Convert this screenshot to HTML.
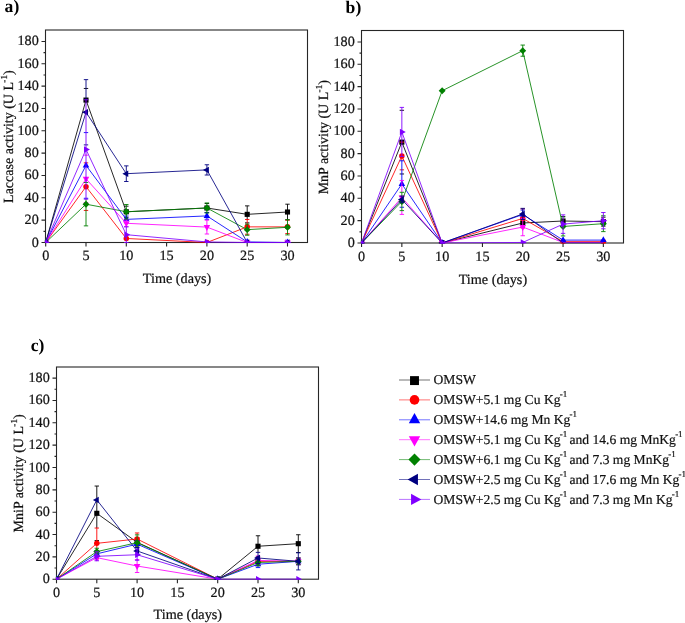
<!DOCTYPE html>
<html><head><meta charset="utf-8"><style>
html,body{margin:0;padding:0;background:#fff;}
body{width:685px;height:623px;overflow:hidden;}
svg{display:block;text-rendering:geometricPrecision;will-change:transform;}
.t{font-family:'Liberation Serif',serif;font-size:14.2px;fill:#111;stroke:#111;stroke-width:0.22px;}
.sup{font-size:9.2px;}
.yt{font-family:'Liberation Serif',serif;font-size:14.0px;fill:#111;stroke:#111;stroke-width:0.22px;}
.lab{font-family:'Liberation Serif',serif;font-size:17.6px;font-weight:bold;fill:#000;}
.lg{font-family:'Liberation Serif',serif;font-size:13.6px;fill:#111;stroke:#111;stroke-width:0.2px;}
.ls{font-size:9px;}
</style></head><body>
<svg width="685" height="623" viewBox="0 0 685 623">
<rect width="685" height="623" fill="#fff"/>
<rect x="45.5" y="30.0" width="262" height="212.50" fill="none" stroke="#262626" stroke-width="1.1"/>
<path d="M41.5,242.50H45.5M43.5,231.33H45.5M41.5,220.16H45.5M43.5,208.99H45.5M41.5,197.82H45.5M43.5,186.65H45.5M41.5,175.48H45.5M43.5,164.31H45.5M41.5,153.14H45.5M43.5,141.97H45.5M41.5,130.80H45.5M43.5,119.63H45.5M41.5,108.46H45.5M43.5,97.29H45.5M41.5,86.12H45.5M43.5,74.95H45.5M41.5,63.78H45.5M43.5,52.61H45.5M41.5,41.44H45.5M45.70,242.5V246.5M86.00,242.5V246.5M126.30,242.5V246.5M166.60,242.5V246.5M206.90,242.5V246.5M247.20,242.5V246.5M287.50,242.5V246.5" stroke="#262626" stroke-width="1.1" fill="none"/>
<clipPath id="ca"><rect x="44.95" y="29.45" width="263.10" height="213.60"/></clipPath>
<g clip-path="url(#ca)">
<path d="M45.70,242.50L86.00,100.08L126.30,211.78L206.90,207.98L247.20,214.35L287.50,212.01" fill="none" stroke="#000000" stroke-width="0.85" stroke-linejoin="round"/>
<path d="M83.80,88.47H88.20M83.80,111.70H88.20" stroke="#000000" stroke-width="0.9" fill="none"/>
<path d="M124.10,206.20H128.50M124.10,217.37H128.50" stroke="#000000" stroke-width="0.9" fill="none"/>
<path d="M204.70,203.52H209.10M204.70,212.45H209.10" stroke="#000000" stroke-width="0.9" fill="none"/>
<path d="M247.20,205.86V219.49M245.00,205.86H249.40M245.00,222.84H249.40" stroke="#000000" stroke-width="0.9" fill="none"/>
<path d="M287.50,204.19V219.71M285.30,204.19H289.70M285.30,219.82H289.70" stroke="#000000" stroke-width="0.9" fill="none"/>
<rect x="43.15" y="239.95" width="5.10" height="5.10" fill="#000000"/>
<rect x="83.45" y="97.53" width="5.10" height="5.10" fill="#000000"/>
<rect x="123.75" y="209.23" width="5.10" height="5.10" fill="#000000"/>
<rect x="204.35" y="205.43" width="5.10" height="5.10" fill="#000000"/>
<rect x="244.65" y="211.80" width="5.10" height="5.10" fill="#000000"/>
<rect x="284.95" y="209.46" width="5.10" height="5.10" fill="#000000"/>
<path d="M45.70,242.50L86.00,186.65L126.30,238.48L206.90,242.50L247.20,226.86L287.50,226.86" fill="none" stroke="#ff0000" stroke-width="0.85" stroke-linejoin="round"/>
<path d="M83.80,162.86H88.20M83.80,210.44H88.20" stroke="#ff0000" stroke-width="0.9" fill="none"/>
<path d="M247.20,219.49V224.07M245.00,219.49H249.40M245.00,234.23H249.40" stroke="#ff0000" stroke-width="0.9" fill="none"/>
<path d="M285.30,220.16H289.70M285.30,233.56H289.70" stroke="#ff0000" stroke-width="0.9" fill="none"/>
<circle cx="45.70" cy="242.50" r="2.75" fill="#ff0000"/>
<circle cx="86.00" cy="186.65" r="2.75" fill="#ff0000"/>
<circle cx="126.30" cy="238.48" r="2.75" fill="#ff0000"/>
<circle cx="206.90" cy="242.50" r="2.75" fill="#ff0000"/>
<circle cx="247.20" cy="226.86" r="2.75" fill="#ff0000"/>
<circle cx="287.50" cy="226.86" r="2.75" fill="#ff0000"/>
<path d="M45.70,242.50L86.00,165.43L126.30,219.38L206.90,215.92L247.20,241.94L287.50,242.50" fill="none" stroke="#0000ff" stroke-width="0.85" stroke-linejoin="round"/>
<path d="M83.80,132.59H88.20M83.80,198.27H88.20" stroke="#0000ff" stroke-width="0.9" fill="none"/>
<path d="M126.30,219.04V219.94M124.10,216.03H128.50M124.10,222.73H128.50" stroke="#0000ff" stroke-width="0.9" fill="none"/>
<path d="M206.90,213.01V219.27M204.70,212.56H209.10M204.70,219.27H209.10" stroke="#0000ff" stroke-width="0.9" fill="none"/>
<path d="M45.70,238.57L48.95,244.47L42.45,244.47Z" fill="#0000ff"/>
<path d="M86.00,161.49L89.25,167.39L82.75,167.39Z" fill="#0000ff"/>
<path d="M126.30,215.44L129.55,221.34L123.05,221.34Z" fill="#0000ff"/>
<path d="M206.90,211.98L210.15,217.88L203.65,217.88Z" fill="#0000ff"/>
<path d="M247.20,238.01L250.45,243.91L243.95,243.91Z" fill="#0000ff"/>
<path d="M287.50,238.57L290.75,244.47L284.25,244.47Z" fill="#0000ff"/>
<path d="M45.70,242.50L86.00,178.83L126.30,223.29L206.90,227.09L247.20,242.50L287.50,242.50" fill="none" stroke="#ff00ff" stroke-width="0.85" stroke-linejoin="round"/>
<path d="M83.80,155.15H88.20M83.80,202.51H88.20" stroke="#ff00ff" stroke-width="0.9" fill="none"/>
<path d="M126.30,219.94V226.64M124.10,219.94H128.50M124.10,226.64H128.50" stroke="#ff00ff" stroke-width="0.9" fill="none"/>
<path d="M206.90,220.16V234.01M204.70,220.16H209.10M204.70,234.01H209.10" stroke="#ff00ff" stroke-width="0.9" fill="none"/>
<path d="M45.70,246.43L48.95,240.53L42.45,240.53Z" fill="#ff00ff"/>
<path d="M86.00,182.76L89.25,176.86L82.75,176.86Z" fill="#ff00ff"/>
<path d="M126.30,227.22L129.55,221.32L123.05,221.32Z" fill="#ff00ff"/>
<path d="M206.90,231.02L210.15,225.12L203.65,225.12Z" fill="#ff00ff"/>
<path d="M247.20,246.43L250.45,240.53L243.95,240.53Z" fill="#ff00ff"/>
<path d="M287.50,246.43L290.75,240.53L284.25,240.53Z" fill="#ff00ff"/>
<path d="M45.70,242.50L86.00,204.19L126.30,211.78L206.90,207.98L247.20,229.65L287.50,227.31" fill="none" stroke="#008000" stroke-width="0.85" stroke-linejoin="round"/>
<path d="M86.00,199.16V225.86M83.80,182.52H88.20M83.80,225.86H88.20" stroke="#008000" stroke-width="0.9" fill="none"/>
<path d="M126.30,204.52V219.04M124.10,204.52H128.50M124.10,219.04H128.50" stroke="#008000" stroke-width="0.9" fill="none"/>
<path d="M206.90,202.96V213.01M204.70,202.96H209.10M204.70,213.01H209.10" stroke="#008000" stroke-width="0.9" fill="none"/>
<path d="M247.20,224.07V235.24M245.00,224.07H249.40M245.00,235.24H249.40" stroke="#008000" stroke-width="0.9" fill="none"/>
<path d="M287.50,219.71V234.90M285.30,219.71H289.70M285.30,234.90H289.70" stroke="#008000" stroke-width="0.9" fill="none"/>
<path d="M45.70,239.05L49.15,242.50L45.70,245.95L42.25,242.50Z" fill="#008000"/>
<path d="M86.00,200.74L89.45,204.19L86.00,207.64L82.55,204.19Z" fill="#008000"/>
<path d="M126.30,208.33L129.75,211.78L126.30,215.23L122.85,211.78Z" fill="#008000"/>
<path d="M206.90,204.53L210.35,207.98L206.90,211.43L203.45,207.98Z" fill="#008000"/>
<path d="M247.20,226.20L250.65,229.65L247.20,233.10L243.75,229.65Z" fill="#008000"/>
<path d="M287.50,223.86L290.95,227.31L287.50,230.76L284.05,227.31Z" fill="#008000"/>
<path d="M45.70,242.50L86.00,112.26L126.30,173.69L206.90,169.89L247.20,242.50L287.50,242.50" fill="none" stroke="#000080" stroke-width="0.85" stroke-linejoin="round"/>
<path d="M86.00,79.64V99.75M83.80,79.64H88.20M83.80,144.87H88.20" stroke="#000080" stroke-width="0.9" fill="none"/>
<path d="M126.30,165.87V181.51M124.10,165.87H128.50M124.10,181.51H128.50" stroke="#000080" stroke-width="0.9" fill="none"/>
<path d="M206.90,164.76V175.03M204.70,164.76H209.10M204.70,175.03H209.10" stroke="#000080" stroke-width="0.9" fill="none"/>
<path d="M41.77,242.50L47.67,239.25L47.67,245.75Z" fill="#000080"/>
<path d="M82.07,112.26L87.97,109.01L87.97,115.51Z" fill="#000080"/>
<path d="M122.37,173.69L128.27,170.44L128.27,176.94Z" fill="#000080"/>
<path d="M202.97,169.89L208.87,166.64L208.87,173.14Z" fill="#000080"/>
<path d="M243.27,242.50L249.17,239.25L249.17,245.75Z" fill="#000080"/>
<path d="M283.57,242.50L289.47,239.25L289.47,245.75Z" fill="#000080"/>
<path d="M45.70,242.50L86.00,149.45L126.30,234.68L206.90,241.94L247.20,242.50L287.50,242.50" fill="none" stroke="#8000ff" stroke-width="0.85" stroke-linejoin="round"/>
<path d="M86.00,99.75V199.16M83.80,99.75H88.20M83.80,199.16H88.20" stroke="#8000ff" stroke-width="0.9" fill="none"/>
<path d="M126.30,226.86V242.50M124.10,226.86H128.50M124.10,242.50H128.50" stroke="#8000ff" stroke-width="0.9" fill="none"/>
<path d="M49.63,242.50L43.73,239.25L43.73,245.75Z" fill="#8000ff"/>
<path d="M89.93,149.45L84.03,146.20L84.03,152.70Z" fill="#8000ff"/>
<path d="M130.23,234.68L124.33,231.43L124.33,237.93Z" fill="#8000ff"/>
<path d="M210.83,241.94L204.93,238.69L204.93,245.19Z" fill="#8000ff"/>
<path d="M251.13,242.50L245.23,239.25L245.23,245.75Z" fill="#8000ff"/>
<path d="M291.43,242.50L285.53,239.25L285.53,245.75Z" fill="#8000ff"/>
</g>
<text x="38.80" y="246.50" text-anchor="end" class="t">0</text>
<text x="38.80" y="224.16" text-anchor="end" class="t">20</text>
<text x="38.80" y="201.82" text-anchor="end" class="t">40</text>
<text x="38.80" y="179.48" text-anchor="end" class="t">60</text>
<text x="38.80" y="157.14" text-anchor="end" class="t">80</text>
<text x="38.80" y="134.80" text-anchor="end" class="t">100</text>
<text x="38.80" y="112.46" text-anchor="end" class="t">120</text>
<text x="38.80" y="90.12" text-anchor="end" class="t">140</text>
<text x="38.80" y="67.78" text-anchor="end" class="t">160</text>
<text x="38.80" y="45.44" text-anchor="end" class="t">180</text>
<text x="45.70" y="260.10" text-anchor="middle" class="t">0</text>
<text x="86.00" y="260.10" text-anchor="middle" class="t">5</text>
<text x="126.30" y="260.10" text-anchor="middle" class="t">10</text>
<text x="166.60" y="260.10" text-anchor="middle" class="t">15</text>
<text x="206.90" y="260.10" text-anchor="middle" class="t">20</text>
<text x="247.20" y="260.10" text-anchor="middle" class="t">25</text>
<text x="287.50" y="260.10" text-anchor="middle" class="t">30</text>
<text x="177.1" y="282.9" text-anchor="middle" class="t">Time (days)</text>
<text transform="translate(13.2,136.6) rotate(-90)" text-anchor="middle" class="yt">Laccase activity (U L<tspan class="sup" dx="-0.6" dy="-6.3">-1</tspan><tspan dy="6.3">)</tspan></text>
<text x="4.6" y="12.2" class="lab">a)</text>
<rect x="361.5" y="30.5" width="262" height="212.50" fill="none" stroke="#262626" stroke-width="1.1"/>
<path d="M357.5,243.00H361.5M359.5,231.83H361.5M357.5,220.66H361.5M359.5,209.49H361.5M357.5,198.32H361.5M359.5,187.15H361.5M357.5,175.98H361.5M359.5,164.81H361.5M357.5,153.64H361.5M359.5,142.47H361.5M357.5,131.30H361.5M359.5,120.13H361.5M357.5,108.96H361.5M359.5,97.79H361.5M357.5,86.62H361.5M359.5,75.45H361.5M357.5,64.28H361.5M359.5,53.11H361.5M357.5,41.94H361.5M361.55,243.0V247.0M401.85,243.0V247.0M442.15,243.0V247.0M482.45,243.0V247.0M522.75,243.0V247.0M563.05,243.0V247.0M603.35,243.0V247.0" stroke="#262626" stroke-width="1.1" fill="none"/>
<clipPath id="cb"><rect x="360.95" y="29.95" width="263.10" height="213.60"/></clipPath>
<g clip-path="url(#cb)">
<path d="M361.55,243.00L401.85,142.13L442.15,243.00L522.75,223.01L563.05,221.00L603.35,221.67" fill="none" stroke="#000000" stroke-width="0.85" stroke-linejoin="round"/>
<path d="M399.65,110.30H404.05M399.65,173.97H404.05" stroke="#000000" stroke-width="0.9" fill="none"/>
<path d="M520.55,218.54H524.95M520.55,227.47H524.95" stroke="#000000" stroke-width="0.9" fill="none"/>
<path d="M560.85,216.53H565.25M560.85,225.46H565.25" stroke="#000000" stroke-width="0.9" fill="none"/>
<path d="M601.15,217.20H605.55M601.15,226.13H605.55" stroke="#000000" stroke-width="0.9" fill="none"/>
<rect x="359.00" y="240.45" width="5.10" height="5.10" fill="#000000"/>
<rect x="399.30" y="139.58" width="5.10" height="5.10" fill="#000000"/>
<rect x="439.60" y="240.45" width="5.10" height="5.10" fill="#000000"/>
<rect x="520.20" y="220.46" width="5.10" height="5.10" fill="#000000"/>
<rect x="560.50" y="218.45" width="5.10" height="5.10" fill="#000000"/>
<rect x="600.80" y="219.12" width="5.10" height="5.10" fill="#000000"/>
<path d="M361.55,243.00L401.85,155.99L442.15,243.00L522.75,218.43L563.05,241.66L603.35,241.66" fill="none" stroke="#ff0000" stroke-width="0.85" stroke-linejoin="round"/>
<path d="M401.85,156.54V160.79M399.65,142.13H404.05M399.65,169.84H404.05" stroke="#ff0000" stroke-width="0.9" fill="none"/>
<path d="M520.55,208.93H524.95M520.55,227.92H524.95" stroke="#ff0000" stroke-width="0.9" fill="none"/>
<path d="M563.05,240.32V243.00M560.85,240.32H565.25M560.85,243.00H565.25" stroke="#ff0000" stroke-width="0.9" fill="none"/>
<path d="M603.35,240.32V243.00M601.15,240.32H605.55M601.15,243.00H605.55" stroke="#ff0000" stroke-width="0.9" fill="none"/>
<circle cx="361.55" cy="243.00" r="2.75" fill="#ff0000"/>
<circle cx="401.85" cy="155.99" r="2.75" fill="#ff0000"/>
<circle cx="442.15" cy="243.00" r="2.75" fill="#ff0000"/>
<circle cx="522.75" cy="218.43" r="2.75" fill="#ff0000"/>
<circle cx="563.05" cy="241.66" r="2.75" fill="#ff0000"/>
<circle cx="603.35" cy="241.66" r="2.75" fill="#ff0000"/>
<path d="M361.55,243.00L401.85,184.02L442.15,243.00L522.75,214.52L563.05,240.10L603.35,240.10" fill="none" stroke="#0000ff" stroke-width="0.85" stroke-linejoin="round"/>
<path d="M401.85,160.79V180.45M399.65,160.79H404.05M399.65,207.26H404.05" stroke="#0000ff" stroke-width="0.9" fill="none"/>
<path d="M520.55,210.05H524.95M520.55,218.98H524.95" stroke="#0000ff" stroke-width="0.9" fill="none"/>
<path d="M361.55,239.07L364.80,244.97L358.30,244.97Z" fill="#0000ff"/>
<path d="M401.85,180.09L405.10,185.99L398.60,185.99Z" fill="#0000ff"/>
<path d="M442.15,239.07L445.40,244.97L438.90,244.97Z" fill="#0000ff"/>
<path d="M522.75,210.58L526.00,216.48L519.50,216.48Z" fill="#0000ff"/>
<path d="M563.05,236.16L566.30,242.06L559.80,242.06Z" fill="#0000ff"/>
<path d="M603.35,236.16L606.60,242.06L600.10,242.06Z" fill="#0000ff"/>
<path d="M361.55,243.00L401.85,197.43L442.15,243.00L522.75,227.03L563.05,242.44L603.35,242.44" fill="none" stroke="#ff00ff" stroke-width="0.85" stroke-linejoin="round"/>
<path d="M401.85,210.61V214.40M401.85,180.45V192.29M399.65,180.45H404.05M399.65,214.40H404.05" stroke="#ff00ff" stroke-width="0.9" fill="none"/>
<path d="M522.75,219.54V235.74M520.55,218.31H524.95M520.55,235.74H524.95" stroke="#ff00ff" stroke-width="0.9" fill="none"/>
<path d="M361.55,246.93L364.80,241.03L358.30,241.03Z" fill="#ff00ff"/>
<path d="M401.85,201.36L405.10,195.46L398.60,195.46Z" fill="#ff00ff"/>
<path d="M442.15,246.93L445.40,241.03L438.90,241.03Z" fill="#ff00ff"/>
<path d="M522.75,230.96L526.00,225.06L519.50,225.06Z" fill="#ff00ff"/>
<path d="M361.55,243.00L401.85,201.45L442.15,90.75L522.75,50.65L563.05,226.47L603.35,223.68" fill="none" stroke="#008000" stroke-width="0.85" stroke-linejoin="round"/>
<path d="M401.85,202.79V210.61M401.85,192.29V196.09M399.65,192.29H404.05M399.65,210.61H404.05" stroke="#008000" stroke-width="0.9" fill="none"/>
<path d="M522.75,45.07V56.24M520.55,45.07H524.95M520.55,56.24H524.95" stroke="#008000" stroke-width="0.9" fill="none"/>
<path d="M563.05,233.39V235.96M560.85,216.97H565.25M560.85,235.96H565.25" stroke="#008000" stroke-width="0.9" fill="none"/>
<path d="M603.35,228.81V231.61M601.15,215.75H605.55M601.15,231.61H605.55" stroke="#008000" stroke-width="0.9" fill="none"/>
<path d="M361.55,239.55L365.00,243.00L361.55,246.45L358.10,243.00Z" fill="#008000"/>
<path d="M401.85,198.00L405.30,201.45L401.85,204.90L398.40,201.45Z" fill="#008000"/>
<path d="M442.15,87.30L445.60,90.75L442.15,94.20L438.70,90.75Z" fill="#008000"/>
<path d="M522.75,47.20L526.20,50.65L522.75,54.10L519.30,50.65Z" fill="#008000"/>
<path d="M563.05,223.02L566.50,226.47L563.05,229.92L559.60,226.47Z" fill="#008000"/>
<path d="M603.35,220.23L606.80,223.68L603.35,227.13L599.90,223.68Z" fill="#008000"/>
<path d="M361.55,243.00L401.85,199.44L442.15,243.00L522.75,213.96L563.05,243.00L603.35,243.00" fill="none" stroke="#000080" stroke-width="0.85" stroke-linejoin="round"/>
<path d="M401.85,196.09V202.79M399.65,196.09H404.05M399.65,202.79H404.05" stroke="#000080" stroke-width="0.9" fill="none"/>
<path d="M522.75,208.37V219.54M520.55,208.37H524.95M520.55,219.54H524.95" stroke="#000080" stroke-width="0.9" fill="none"/>
<path d="M357.62,243.00L363.52,239.75L363.52,246.25Z" fill="#000080"/>
<path d="M397.92,199.44L403.82,196.19L403.82,202.69Z" fill="#000080"/>
<path d="M438.22,243.00L444.12,239.75L444.12,246.25Z" fill="#000080"/>
<path d="M518.82,213.96L524.72,210.71L524.72,217.21Z" fill="#000080"/>
<path d="M361.55,243.00L401.85,131.97L442.15,243.00L522.75,242.44L563.05,224.12L603.35,220.66" fill="none" stroke="#8000ff" stroke-width="0.85" stroke-linejoin="round"/>
<path d="M401.85,107.40V156.54M399.65,107.40H404.05M399.65,156.54H404.05" stroke="#8000ff" stroke-width="0.9" fill="none"/>
<path d="M563.05,214.85V233.39M560.85,214.85H565.25M560.85,233.39H565.25" stroke="#8000ff" stroke-width="0.9" fill="none"/>
<path d="M603.35,212.51V228.81M601.15,212.51H605.55M601.15,228.81H605.55" stroke="#8000ff" stroke-width="0.9" fill="none"/>
<path d="M365.48,243.00L359.58,239.75L359.58,246.25Z" fill="#8000ff"/>
<path d="M405.78,131.97L399.88,128.72L399.88,135.22Z" fill="#8000ff"/>
<path d="M446.08,243.00L440.18,239.75L440.18,246.25Z" fill="#8000ff"/>
<path d="M526.68,242.44L520.78,239.19L520.78,245.69Z" fill="#8000ff"/>
<path d="M566.98,224.12L561.08,220.87L561.08,227.37Z" fill="#8000ff"/>
<path d="M607.28,220.66L601.38,217.41L601.38,223.91Z" fill="#8000ff"/>
</g>
<text x="354.80" y="247.00" text-anchor="end" class="t">0</text>
<text x="354.80" y="224.66" text-anchor="end" class="t">20</text>
<text x="354.80" y="202.32" text-anchor="end" class="t">40</text>
<text x="354.80" y="179.98" text-anchor="end" class="t">60</text>
<text x="354.80" y="157.64" text-anchor="end" class="t">80</text>
<text x="354.80" y="135.30" text-anchor="end" class="t">100</text>
<text x="354.80" y="112.96" text-anchor="end" class="t">120</text>
<text x="354.80" y="90.62" text-anchor="end" class="t">140</text>
<text x="354.80" y="68.28" text-anchor="end" class="t">160</text>
<text x="354.80" y="45.94" text-anchor="end" class="t">180</text>
<text x="361.55" y="260.60" text-anchor="middle" class="t">0</text>
<text x="401.85" y="260.60" text-anchor="middle" class="t">5</text>
<text x="442.15" y="260.60" text-anchor="middle" class="t">10</text>
<text x="482.45" y="260.60" text-anchor="middle" class="t">15</text>
<text x="522.75" y="260.60" text-anchor="middle" class="t">20</text>
<text x="563.05" y="260.60" text-anchor="middle" class="t">25</text>
<text x="603.35" y="260.60" text-anchor="middle" class="t">30</text>
<text x="492.9" y="284.0" text-anchor="middle" class="t">Time (days)</text>
<text transform="translate(328.0,137.2) rotate(-90)" text-anchor="middle" class="yt">MnP activity (U L<tspan class="sup" dx="-0.6" dy="-6.3">-1</tspan><tspan dy="6.3">)</tspan></text>
<text x="345.6" y="12.6" class="lab">b)</text>
<rect x="56.5" y="367.0" width="262" height="212.20" fill="none" stroke="#262626" stroke-width="1.1"/>
<path d="M52.5,579.20H56.5M54.5,568.03H56.5M52.5,556.86H56.5M54.5,545.69H56.5M52.5,534.52H56.5M54.5,523.35H56.5M52.5,512.18H56.5M54.5,501.01H56.5M52.5,489.84H56.5M54.5,478.67H56.5M52.5,467.50H56.5M54.5,456.33H56.5M52.5,445.16H56.5M54.5,433.99H56.5M52.5,422.82H56.5M54.5,411.65H56.5M52.5,400.48H56.5M54.5,389.31H56.5M52.5,378.14H56.5M56.50,579.2V583.2M96.80,579.2V583.2M137.10,579.2V583.2M177.40,579.2V583.2M217.70,579.2V583.2M258.00,579.2V583.2M298.30,579.2V583.2" stroke="#262626" stroke-width="1.1" fill="none"/>
<clipPath id="cc"><rect x="55.95" y="366.45" width="263.10" height="213.30"/></clipPath>
<g clip-path="url(#cc)">
<path d="M56.50,579.20L96.80,513.30L137.10,542.34L217.70,579.20L258.00,546.25L298.30,543.68" fill="none" stroke="#000000" stroke-width="0.85" stroke-linejoin="round"/>
<path d="M96.80,486.04V528.04M94.60,486.04H99.00M94.60,540.55H99.00" stroke="#000000" stroke-width="0.9" fill="none"/>
<path d="M134.90,537.87H139.30M134.90,546.81H139.30" stroke="#000000" stroke-width="0.9" fill="none"/>
<path d="M258.00,535.75V552.39M255.80,535.75H260.20M255.80,556.75H260.20" stroke="#000000" stroke-width="0.9" fill="none"/>
<path d="M298.30,534.74V552.62M296.10,534.74H300.50M296.10,552.62H300.50" stroke="#000000" stroke-width="0.9" fill="none"/>
<rect x="53.95" y="576.65" width="5.10" height="5.10" fill="#000000"/>
<rect x="94.25" y="510.75" width="5.10" height="5.10" fill="#000000"/>
<rect x="134.55" y="539.79" width="5.10" height="5.10" fill="#000000"/>
<rect x="215.15" y="576.65" width="5.10" height="5.10" fill="#000000"/>
<rect x="255.45" y="543.70" width="5.10" height="5.10" fill="#000000"/>
<rect x="295.75" y="541.13" width="5.10" height="5.10" fill="#000000"/>
<path d="M56.50,579.20L96.80,543.34L137.10,538.99L217.70,579.20L258.00,561.33L298.30,561.33" fill="none" stroke="#ff0000" stroke-width="0.85" stroke-linejoin="round"/>
<path d="M96.80,528.04V548.26M94.60,528.04H99.00M94.60,558.65H99.00" stroke="#ff0000" stroke-width="0.9" fill="none"/>
<path d="M137.10,532.96V534.86M134.90,532.96H139.30M134.90,545.02H139.30" stroke="#ff0000" stroke-width="0.9" fill="none"/>
<path d="M255.80,557.98H260.20M255.80,564.68H260.20" stroke="#ff0000" stroke-width="0.9" fill="none"/>
<path d="M296.10,557.98H300.50M296.10,564.68H300.50" stroke="#ff0000" stroke-width="0.9" fill="none"/>
<circle cx="56.50" cy="579.20" r="2.75" fill="#ff0000"/>
<circle cx="96.80" cy="543.34" r="2.75" fill="#ff0000"/>
<circle cx="137.10" cy="538.99" r="2.75" fill="#ff0000"/>
<circle cx="217.70" cy="579.20" r="2.75" fill="#ff0000"/>
<circle cx="258.00" cy="561.33" r="2.75" fill="#ff0000"/>
<circle cx="298.30" cy="561.33" r="2.75" fill="#ff0000"/>
<path d="M56.50,579.20L96.80,553.84L137.10,544.13L217.70,579.20L258.00,564.23L298.30,561.33" fill="none" stroke="#0000ff" stroke-width="0.85" stroke-linejoin="round"/>
<path d="M94.60,550.49H99.00M94.60,557.20H99.00" stroke="#0000ff" stroke-width="0.9" fill="none"/>
<path d="M134.90,540.78H139.30M134.90,547.48H139.30" stroke="#0000ff" stroke-width="0.9" fill="none"/>
<path d="M258.00,565.80V567.58M255.80,560.88H260.20M255.80,567.58H260.20" stroke="#0000ff" stroke-width="0.9" fill="none"/>
<path d="M296.10,557.98H300.50M296.10,564.68H300.50" stroke="#0000ff" stroke-width="0.9" fill="none"/>
<path d="M56.50,575.27L59.75,581.17L53.25,581.17Z" fill="#0000ff"/>
<path d="M96.80,549.91L100.05,555.81L93.55,555.81Z" fill="#0000ff"/>
<path d="M137.10,540.19L140.35,546.09L133.85,546.09Z" fill="#0000ff"/>
<path d="M217.70,575.27L220.95,581.17L214.45,581.17Z" fill="#0000ff"/>
<path d="M258.00,560.30L261.25,566.20L254.75,566.20Z" fill="#0000ff"/>
<path d="M298.30,557.39L301.55,563.29L295.05,563.29Z" fill="#0000ff"/>
<path d="M56.50,579.20L96.80,557.64L137.10,566.02L217.70,579.20L258.00,560.43L298.30,561.33" fill="none" stroke="#ff00ff" stroke-width="0.85" stroke-linejoin="round"/>
<path d="M94.60,555.41H99.00M94.60,559.88H99.00" stroke="#ff00ff" stroke-width="0.9" fill="none"/>
<path d="M137.10,560.32V572.50M134.90,559.54H139.30M134.90,572.50H139.30" stroke="#ff00ff" stroke-width="0.9" fill="none"/>
<path d="M255.80,555.97H260.20M255.80,564.90H260.20" stroke="#ff00ff" stroke-width="0.9" fill="none"/>
<path d="M296.10,557.98H300.50M296.10,564.68H300.50" stroke="#ff00ff" stroke-width="0.9" fill="none"/>
<path d="M56.50,583.13L59.75,577.23L53.25,577.23Z" fill="#ff00ff"/>
<path d="M96.80,561.58L100.05,555.68L93.55,555.68Z" fill="#ff00ff"/>
<path d="M137.10,569.95L140.35,564.05L133.85,564.05Z" fill="#ff00ff"/>
<path d="M217.70,583.13L220.95,577.23L214.45,577.23Z" fill="#ff00ff"/>
<path d="M258.00,564.37L261.25,558.47L254.75,558.47Z" fill="#ff00ff"/>
<path d="M298.30,565.26L301.55,559.36L295.05,559.36Z" fill="#ff00ff"/>
<path d="M56.50,579.20L96.80,551.61L137.10,542.67L217.70,579.20L258.00,562.45L298.30,561.33" fill="none" stroke="#008000" stroke-width="0.85" stroke-linejoin="round"/>
<path d="M96.80,548.26V551.83M94.60,548.26H99.00M94.60,554.96H99.00" stroke="#008000" stroke-width="0.9" fill="none"/>
<path d="M137.10,534.86V547.59M134.90,534.86H139.30M134.90,550.49H139.30" stroke="#008000" stroke-width="0.9" fill="none"/>
<path d="M258.00,563.56V565.80M255.80,559.09H260.20M255.80,565.80H260.20" stroke="#008000" stroke-width="0.9" fill="none"/>
<path d="M296.10,557.98H300.50M296.10,564.68H300.50" stroke="#008000" stroke-width="0.9" fill="none"/>
<path d="M56.50,575.75L59.95,579.20L56.50,582.65L53.05,579.20Z" fill="#008000"/>
<path d="M96.80,548.16L100.25,551.61L96.80,555.06L93.35,551.61Z" fill="#008000"/>
<path d="M137.10,539.22L140.55,542.67L137.10,546.12L133.65,542.67Z" fill="#008000"/>
<path d="M217.70,575.75L221.15,579.20L217.70,582.65L214.25,579.20Z" fill="#008000"/>
<path d="M258.00,559.00L261.45,562.45L258.00,565.90L254.55,562.45Z" fill="#008000"/>
<path d="M298.30,557.88L301.75,561.33L298.30,564.78L294.85,561.33Z" fill="#008000"/>
<path d="M56.50,579.20L96.80,499.89L137.10,550.94L217.70,579.20L258.00,557.98L298.30,561.33" fill="none" stroke="#000080" stroke-width="0.85" stroke-linejoin="round"/>
<path d="M137.10,547.59V549.15M134.90,547.59H139.30M134.90,554.29H139.30" stroke="#000080" stroke-width="0.9" fill="none"/>
<path d="M258.00,552.39V563.56M255.80,552.39H260.20M255.80,563.56H260.20" stroke="#000080" stroke-width="0.9" fill="none"/>
<path d="M298.30,552.73V569.93M296.10,552.73H300.50M296.10,569.93H300.50" stroke="#000080" stroke-width="0.9" fill="none"/>
<path d="M52.57,579.20L58.47,575.95L58.47,582.45Z" fill="#000080"/>
<path d="M92.87,499.89L98.77,496.64L98.77,503.14Z" fill="#000080"/>
<path d="M133.17,550.94L139.07,547.69L139.07,554.19Z" fill="#000080"/>
<path d="M213.77,579.20L219.67,575.95L219.67,582.45Z" fill="#000080"/>
<path d="M254.07,557.98L259.97,554.73L259.97,561.23Z" fill="#000080"/>
<path d="M294.37,561.33L300.27,558.08L300.27,564.58Z" fill="#000080"/>
<path d="M56.50,579.20L96.80,556.30L137.10,554.74L217.70,579.20L258.00,579.20L298.30,579.20" fill="none" stroke="#8000ff" stroke-width="0.85" stroke-linejoin="round"/>
<path d="M96.80,551.83V560.77M94.60,551.83H99.00M94.60,560.77H99.00" stroke="#8000ff" stroke-width="0.9" fill="none"/>
<path d="M137.10,549.15V560.32M134.90,549.15H139.30M134.90,560.32H139.30" stroke="#8000ff" stroke-width="0.9" fill="none"/>
<path d="M60.43,579.20L54.53,575.95L54.53,582.45Z" fill="#8000ff"/>
<path d="M100.73,556.30L94.83,553.05L94.83,559.55Z" fill="#8000ff"/>
<path d="M141.03,554.74L135.13,551.49L135.13,557.99Z" fill="#8000ff"/>
<path d="M221.63,579.20L215.73,575.95L215.73,582.45Z" fill="#8000ff"/>
<path d="M261.93,579.20L256.03,575.95L256.03,582.45Z" fill="#8000ff"/>
<path d="M302.23,579.20L296.33,575.95L296.33,582.45Z" fill="#8000ff"/>
</g>
<text x="49.80" y="583.20" text-anchor="end" class="t">0</text>
<text x="49.80" y="560.86" text-anchor="end" class="t">20</text>
<text x="49.80" y="538.52" text-anchor="end" class="t">40</text>
<text x="49.80" y="516.18" text-anchor="end" class="t">60</text>
<text x="49.80" y="493.84" text-anchor="end" class="t">80</text>
<text x="49.80" y="471.50" text-anchor="end" class="t">100</text>
<text x="49.80" y="449.16" text-anchor="end" class="t">120</text>
<text x="49.80" y="426.82" text-anchor="end" class="t">140</text>
<text x="49.80" y="404.48" text-anchor="end" class="t">160</text>
<text x="49.80" y="382.14" text-anchor="end" class="t">180</text>
<text x="56.50" y="596.80" text-anchor="middle" class="t">0</text>
<text x="96.80" y="596.80" text-anchor="middle" class="t">5</text>
<text x="137.10" y="596.80" text-anchor="middle" class="t">10</text>
<text x="177.40" y="596.80" text-anchor="middle" class="t">15</text>
<text x="217.70" y="596.80" text-anchor="middle" class="t">20</text>
<text x="258.00" y="596.80" text-anchor="middle" class="t">25</text>
<text x="298.30" y="596.80" text-anchor="middle" class="t">30</text>
<text x="187.8" y="619.1" text-anchor="middle" class="t">Time (days)</text>
<text transform="translate(22.8,473.4) rotate(-90)" text-anchor="middle" class="yt">MniP activity (U L<tspan class="sup" dx="-0.6" dy="-6.3">-1</tspan><tspan dy="6.3">)</tspan></text>
<text x="30.8" y="350.8" class="lab">c)</text>
<path d="M399,380.00H430" stroke="#000000" stroke-width="1" opacity="0.55"/>
<rect x="410.04" y="376.14" width="8.92" height="8.92" fill="#000000"/>
<text x="433.5" y="384.10" class="lg">OMSW</text>
<path d="M399,399.90H430" stroke="#ff0000" stroke-width="1" opacity="0.55"/>
<circle cx="414.50" cy="399.90" r="4.81" fill="#ff0000"/>
<text x="433.5" y="404.00" class="lg">OMSW+5.1 mg Cu Kg<tspan class="ls" dx="-0.8" dy="-7">-1</tspan></text>
<path d="M399,419.80H430" stroke="#0000ff" stroke-width="1" opacity="0.55"/>
<path d="M414.50,412.92L420.19,423.24L408.81,423.24Z" fill="#0000ff"/>
<text x="433.5" y="423.90" class="lg">OMSW+14.6 mg Mn Kg<tspan class="ls" dx="-0.8" dy="-7">-1</tspan></text>
<path d="M399,439.70H430" stroke="#ff00ff" stroke-width="1" opacity="0.55"/>
<path d="M414.50,446.58L420.19,436.26L408.81,436.26Z" fill="#ff00ff"/>
<text x="433.5" y="443.80" class="lg">OMSW+5.1 mg Cu Kg<tspan class="ls" dx="-0.8" dy="-7">-1 </tspan><tspan dy="7">and 14.6 mg MnKg</tspan><tspan class="ls" dx="-0.8" dy="-7">-1</tspan></text>
<path d="M399,459.60H430" stroke="#008000" stroke-width="1" opacity="0.55"/>
<path d="M414.50,453.56L420.54,459.60L414.50,465.64L408.46,459.60Z" fill="#008000"/>
<text x="433.5" y="463.70" class="lg">OMSW+6.1 mg Cu Kg<tspan class="ls" dx="-0.8" dy="-7">-1 </tspan><tspan dy="7">and 7.3 mg MnKg</tspan><tspan class="ls" dx="-0.8" dy="-7">-1</tspan></text>
<path d="M399,479.50H430" stroke="#000080" stroke-width="1" opacity="0.55"/>
<path d="M407.62,479.50L417.94,473.81L417.94,485.19Z" fill="#000080"/>
<text x="433.5" y="483.60" class="lg">OMSW+2.5 mg Cu Kg<tspan class="ls" dx="-0.8" dy="-7">-1 </tspan><tspan dy="7">and 17.6 mg Mn Kg</tspan><tspan class="ls" dx="-0.8" dy="-7">-1</tspan></text>
<path d="M399,499.40H430" stroke="#8000ff" stroke-width="1" opacity="0.55"/>
<path d="M421.38,499.40L411.06,493.71L411.06,505.09Z" fill="#8000ff"/>
<text x="433.5" y="503.50" class="lg">OMSW+2.5 mg Cu Kg<tspan class="ls" dx="-0.8" dy="-7">-1 </tspan><tspan dy="7">and 7.3 mg Mn Kg</tspan><tspan class="ls" dx="-0.8" dy="-7">-1</tspan></text>
</svg>
</body></html>
